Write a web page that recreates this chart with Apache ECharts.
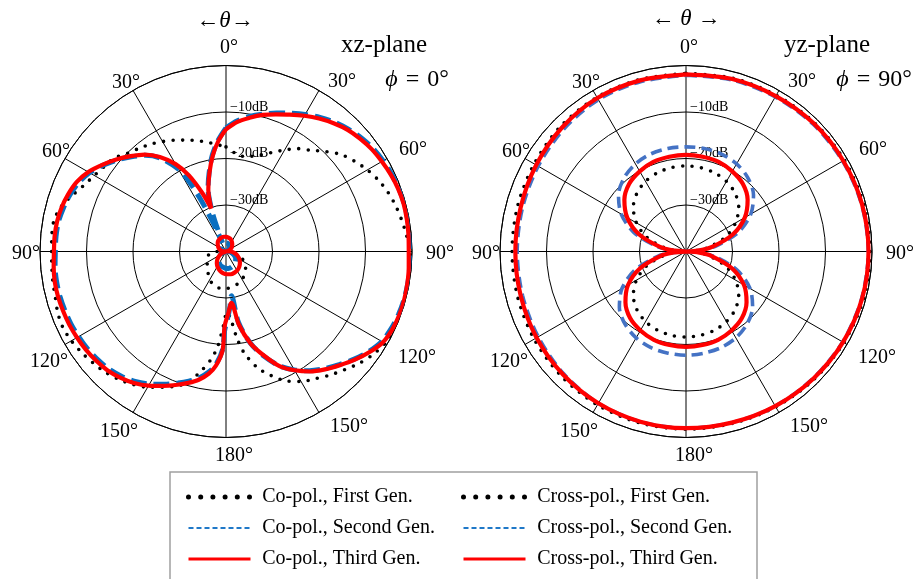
<!DOCTYPE html>
<html>
<head>
<meta charset="utf-8">
<script src="https://cdn.jsdelivr.net/npm/echarts@6/dist/echarts.min.js"></script>
<style>
  html, body { margin: 0; padding: 0; background: #fff; }
  #chart { width: 916px; height: 579px; }
</style>
</head>
<body>
<div id="chart"></div>
<script>
// Radiation patterns, values as [theta (deg, clockwise from broadside), gain (dB)]

// ---- xz-plane (phi = 0) ----
const xzCoFirst = [
  [0,-17.5],[5,-18.7],[10,-19.2],[15,-18.8],[20,-17.9],[25,-16.5],[30,-14.8],[35,-13.0],[40,-11.6],[45,-9.6],
  [50,-7.6],[55,-6.2],[60,-4.9],[65,-3.8],[70,-2.9],[75,-2.2],[80,-1.6],[85,-1.0],[90,-0.5],[95,-0.2],
  [100,0],[105,0],[110,0],[115,-0.2],[120,-0.5],[125,-1.4],[130,-2.6],[135,-4.0],[140,-5.3],[145,-6.6],
  [150,-7.7],[155,-9.3],[160,-11.6],[165,-14.2],[170,-18.0],[173,-21.5],[176,-25.5],[179,-27.0],[182,-24.0],
  [185,-19.5],[188,-16.5],[192,-13.6],[196,-10.8],[200,-9.2],[205,-7.8],[210,-6.3],[215,-5.1],[220,-4.1],
  [225,-3.3],[230,-2.7],[235,-2.1],[240,-1.6],[245,-1.3],[250,-1.5],[255,-2.0],[260,-2.2],[265,-2.4],
  [270,-2.5],[275,-2.4],[280,-2.4],[285,-3.2],[290,-4.8],[295,-6.3],[300,-7.3],[305,-8.1],[310,-8.7],
  [315,-10.1],[320,-11.0],[325,-11.8],[330,-12.7],[335,-13.6],[340,-14.5],[345,-15.3],[350,-16.1],[355,-16.9]
];
const xzCoSecond = [
  [0,-13.4],[5,-11.8],[10,-10.5],[15,-9.4],[20,-8.3],[25,-7.2],[30,-6.0],[35,-4.8],[40,-3.7],[45,-2.8],
  [50,-2.0],[55,-1.4],[60,-1.0],[65,-0.7],[70,-0.45],[75,-0.3],[80,-0.3],[85,-0.35],[90,-0.4],[95,-0.35],
  [100,-0.3],[105,-0.35],[110,-0.5],[115,-0.8],[120,-1.3],[125,-2.5],[130,-4.0],[135,-5.6],[140,-7.1],
  [145,-8.7],[150,-10.6],[155,-12.9],[160,-16.0],[165,-19.5],[170,-24.5],[173,-30.4],[176,-28.0],[179,-25.2],
  [181,-23.0],[182,-18.9],[185,-15.7],[188,-13.9],[192,-12.2],[196,-11.0],[200,-9.9],[205,-8.5],[210,-7.1],
  [215,-5.9],[220,-5.0],[225,-4.3],[230,-3.9],[235,-3.6],[240,-3.4],[245,-3.2],[250,-3.1],[255,-3.0],
  [260,-3.0],[265,-3.1],[270,-3.3],[275,-3.3],[280,-3.4],[285,-3.8],[290,-4.3],[295,-5.0],[300,-6.1],
  [305,-7.7],[310,-9.4],[315,-11.2],[320,-13.0],[325,-15.5],[330,-19.5],[332,-22.5],[334,-27.5],[336,-33.5],
  [338,-38.0],[340,-33.0],[341,-30.5],[344,-26.0],[348,-22.6],[352,-19.0],[356,-16.0]
];
const xzCoThird = [
  [0,-13.7],[5,-12.0],[10,-10.8],[15,-9.6],[20,-8.6],[25,-7.5],[30,-6.3],[35,-5.1],[40,-4.0],[45,-3.0],
  [50,-2.3],[55,-1.7],[60,-1.3],[65,-0.9],[70,-0.6],[75,-0.45],[80,-0.5],[85,-0.6],[90,-0.7],[95,-0.55],
  [100,-0.4],[105,-0.3],[110,-0.3],[115,-0.5],[120,-1.0],[125,-2.3],[130,-3.8],[135,-5.4],[140,-6.9],
  [145,-8.5],[150,-10.5],[155,-12.8],[160,-16.2],[165,-19.5],[170,-24.0],[174,-28.9],[178,-26.6],[181,-24.0],
  [182,-18.7],[185,-15.4],[188,-13.5],[192,-11.8],[196,-10.6],[200,-9.5],[205,-8.1],[210,-6.7],[215,-5.5],
  [220,-4.6],[225,-3.9],[230,-3.5],[235,-3.2],[240,-3.0],[245,-2.8],[250,-2.7],[255,-2.6],[260,-2.6],
  [265,-2.8],[270,-3.0],[275,-3.0],[280,-3.1],[285,-3.4],[290,-3.9],[295,-4.6],[300,-5.8],[305,-7.5],
  [310,-9.2],[315,-11.0],[320,-12.8],[325,-15.2],[330,-18.3],[334,-21.8],[338,-26.5],[341,-30.2],
  [344,-26.2],[348,-22.8],[352,-19.3],[356,-16.2]
];
const xzCrossFirst = [
  [90,-40],[100,-38.5],[110,-36.8],[120,-35.4],[130,-34.5],[140,-33.7],[150,-33.1],[160,-32.6],[170,-32.3],
  [180,-32.0],[190,-32.0],[200,-32.3],[210,-33.0],[220,-34.0],[230,-34.8],[240,-35.3],[250,-35.6],
  [260,-36.3],[270,-38.0],[280,-40]
];
const xzCrossSecond = [
  [82,-40],[92,-39.4],[102,-38.7],[112,-38.2],[122,-37.6],[132,-37.2],[142,-36.8],[152,-36.6],[162,-36.4],
  [172,-36.3],[182,-36.4],[192,-36.6],[202,-36.8],[212,-37.2],[222,-37.6],[232,-38.2],[242,-38.7],
  [252,-39.4],[262,-40],[290,-39.0],[310,-38.5],[330,-38.2],[350,-38.1],[10,-38.2],[30,-38.5],[50,-39.0],[80,-40]
];
const xzCrossThird = [
  [78,-40],[88,-39.1],[98,-38.3],[108,-37.5],[118,-36.8],[128,-36.2],[138,-35.7],[148,-35.3],[158,-35.1],
  [168,-35.0],[178,-35.1],[188,-35.3],[198,-35.7],[208,-36.2],[218,-36.8],[228,-37.5],[238,-38.3],
  [248,-39.1],[258,-40],[262,-40],[272,-39.4],[282,-38.9],[292,-38.4],[302,-38.0],[312,-37.6],[322,-37.2],
  [332,-37.0],[342,-36.85],[352,-36.8],[2,-36.85],[12,-37.0],[22,-37.2],[32,-37.6],[42,-38.0],[52,-38.4],
  [62,-38.9],[72,-39.4],[82,-40]
];

// ---- yz-plane (phi = 90) ----
const yzCoFirst = [
  [0,-1.7],[15,-1.4],[30,-1.2],[45,-0.9],[60,-0.7],[75,-0.5],[90,-0.4],[105,-0.5],[120,-0.8],[135,-1.1],
  [150,-1.4],[165,-1.7],[180,-1.8],[195,-1.8],[210,-1.9],[225,-2.1],[240,-2.3],[255,-2.5],[270,-2.6],
  [285,-2.5],[300,-2.3],[315,-1.9],[330,-1.7],[345,-1.7]
];
const yzCoSecond = [
  [0,-2.1],[15,-1.8],[30,-1.6],[45,-1.3],[60,-1.1],[75,-0.9],[90,-0.8],[105,-0.9],[120,-1.1],[135,-1.4],
  [150,-1.6],[165,-1.9],[180,-2.0],[195,-2.1],[210,-2.3],[225,-2.8],[240,-3.3],[255,-3.6],[270,-3.7],
  [285,-3.6],[300,-3.3],[315,-2.8],[330,-2.3],[345,-2.2]
];
const yzCoThird = [
  [0,-1.9],[15,-1.6],[30,-1.4],[45,-1.1],[60,-0.95],[75,-0.8],[90,-0.75],[105,-0.8],[120,-1.0],[135,-1.3],
  [150,-1.6],[165,-1.9],[180,-2.0],[195,-2.1],[210,-2.3],[225,-2.6],[240,-2.9],[255,-3.2],[270,-3.3],
  [285,-3.2],[300,-2.8],[315,-2.3],[330,-1.9],[345,-1.9]
];
const yzCrossFirst = [
  [90,-40],[95,-37.6],[100,-35.2],[110,-31.0],[120,-27.7],[130,-25.2],[140,-23.6],[150,-22.6],[160,-22.0],
  [170,-21.7],[180,-21.6],[190,-21.7],[200,-22.0],[210,-22.6],[220,-23.6],[230,-25.2],[240,-27.7],
  [250,-31.0],[260,-35.2],[265,-37.6],[270,-40],[275,-37.6],[280,-35.2],[290,-31.0],[300,-27.7],[310,-25.2],
  [320,-23.6],[330,-22.6],[340,-22.0],[350,-21.7],[0,-21.6],[10,-21.7],[20,-22.0],[30,-22.6],[40,-23.6],
  [50,-25.2],[60,-27.7],[70,-31.0],[80,-35.2],[85,-37.6],[90,-40]
];
const yzCrossSecond = [
  [90,-40],[95,-36.9],[100,-33.7],[110,-28.3],[120,-24.1],[130,-21.3],[140,-19.6],[150,-18.55],[160,-18.0],
  [170,-17.8],[180,-17.7],[190,-17.8],[200,-18.0],[210,-18.55],[220,-19.6],[230,-21.3],[240,-24.1],
  [250,-28.3],[260,-33.7],[265,-36.9],[270,-40],[275,-36.8],[280,-33.6],[290,-28.1],[300,-23.9],[310,-21.05],
  [320,-19.3],[330,-18.25],[340,-17.7],[350,-17.5],[0,-17.5],[10,-17.5],[20,-17.7],[30,-18.25],[40,-19.3],
  [50,-21.05],[60,-23.9],[70,-28.1],[80,-33.6],[85,-36.8],[90,-40]
];
const yzCrossThird = [
  [90,-40],[95,-37.1],[100,-34.4],[110,-29.5],[120,-25.6],[130,-23.0],[140,-21.3],[150,-20.4],[160,-19.8],
  [170,-19.6],[180,-19.5],[190,-19.6],[200,-19.8],[210,-20.4],[220,-21.3],[230,-23.0],[240,-25.6],
  [250,-29.5],[260,-34.4],[265,-37.1],[270,-40],[275,-37.1],[280,-34.3],[290,-29.3],[300,-25.4],[310,-22.7],
  [320,-21.0],[330,-20.1],[340,-19.5],[350,-19.3],[0,-19.2],[10,-19.3],[20,-19.5],[30,-20.1],[40,-21.0],
  [50,-22.7],[60,-25.4],[70,-29.3],[80,-34.3],[85,-37.1],[90,-40]
];

// Axis scale and tick labels
const dbMin = -40, dbMax = 0, dbStep = 10;
const ringLabels = { '-10': '\u221210dB', '-20': '\u221220dB', '-30': '\u221230dB' };
const angleStep = 30;

const names = {
  coFirst: 'Co-pol., First Gen.',
  coSecond: 'Co-pol., Second Gen.',
  coThird: 'Co-pol., Third Gen.',
  crFirst: 'Cross-pol., First Gen.',
  crSecond: 'Cross-pol., Second Gen.',
  crThird: 'Cross-pol., Third Gen.'
};

const SERIF = '"Liberation Serif", "Times New Roman", serif';

// Line looks
const dotted = { color: '#000', width: 3.6, type: [0, 9.5], cap: 'round' };
const blueXZ = { color: '#0a6fc0', width: 5, type: [16, 7] };
const blueYZ = { color: '#4472c4', width: 3.6, type: [11, 6] };
const redLine = { color: '#ff0000', width: 4.2 };

function toPolar(pairs, close) {
  const pts = pairs.map(p => [p[1], p[0]]);
  if (close) pts.push(pts[0].slice());
  return pts;
}

function line(name, polarIndex, pairs, style, z, close) {
  return {
    name, type: 'line', coordinateSystem: 'polar', polarIndex,
    data: toPolar(pairs, close),
    symbol: 'none', smooth: 0.3, z, silent: true,
    lineStyle: style,
    animation: false
  };
}

const centers = [[226, 251.5], [686, 251.5]];
const R = 186;

const polar = centers.map(c => ({ center: c, radius: R }));

// Angle labels read 0..180 on both sides of the broadside axis.
// Per-tick padding seats each label (the degree sign hangs to the right of the numerals).
function labelStyle(pad) {
  return { fontFamily: SERIF, fontSize: 20, color: '#000', padding: pad };
}
const angleRich = {
  t0: labelStyle([0, 0, 0, 6]),
  t30: labelStyle([0, 0, -8, 5]),
  t60: labelStyle([0, 0, -5, 5]),
  t90: labelStyle([4, 0, 0, 6]),
  t120: labelStyle([-1, 0, 0, 4]),
  t150: labelStyle([-3, 0, 0, 7]),
  t180: labelStyle([0, 0, 0, 16]),
  t210: labelStyle([2, -9, 0, 0]),
  t240: labelStyle([3, -10, 0, 0]),
  t270: labelStyle([5, -8, 0, 0]),
  t300: labelStyle([0, -12, -7, 0]),
  t330: labelStyle([0, -11, -9, 0])
};

const angleAxis = centers.map((c, i) => ({
  polarIndex: i, type: 'value', min: 0, max: 360, interval: angleStep,
  startAngle: 90, clockwise: true,
  axisLine: { lineStyle: { color: '#000', width: 1 } },
  axisTick: { show: false },
  splitLine: { show: true, lineStyle: { color: '#000', width: 1 } },
  axisLabel: {
    margin: 8,
    color: '#000', fontFamily: SERIF, fontSize: 20,
    rich: angleRich,
    formatter: v => {
      const d = v > 180 ? 360 - v : v;
      return '{t' + v + '|' + d + '°}';
    }
  }
}));

const radiusAxis = centers.map((c, i) => ({
  polarIndex: i, type: 'value', min: dbMin, max: dbMax, interval: dbStep,
  axisLine: { show: false },
  axisTick: { show: false },
  splitLine: { show: true, lineStyle: { color: '#000', width: 1 } },
  axisLabel: {
    margin: -4, align: 'left', verticalAlign: 'bottom', padding: [0, 0, -2, 0],
    color: '#000', fontFamily: SERIF, fontSize: 14,
    formatter: v => ringLabels[String(v)] || ''
  }
}));

const series = [
  line(names.coFirst, 0, xzCoFirst, dotted, 2, true),
  line(names.crFirst, 0, xzCrossFirst, dotted, 2, false),
  line(names.coSecond, 0, xzCoSecond, blueXZ, 3, true),
  line(names.crSecond, 0, xzCrossSecond, blueXZ, 3, false),
  line(names.coThird, 0, xzCoThird, redLine, 4, true),
  line(names.crThird, 0, xzCrossThird, redLine, 4, false),

  line(names.coFirst, 1, yzCoFirst, dotted, 2, true),
  line(names.crFirst, 1, yzCrossFirst, dotted, 2, false),
  line(names.coSecond, 1, yzCoSecond, blueYZ, 3, true),
  line(names.crSecond, 1, yzCrossSecond, blueYZ, 3, false),
  line(names.coThird, 1, yzCoThird, redLine, 4, true),
  line(names.crThird, 1, yzCrossThird, redLine, 4, false)
];

const legendLook = {
  First: { lineStyle: { color: '#000', width: 5, type: [0, 12.2], cap: 'round' } },
  Second: { lineStyle: { color: '#1f78c8', width: 2, type: [5, 3] } },
  Third: { lineStyle: { color: '#ff0000', width: 3, type: 'solid' } }
};
function legendItem(name, gen) {
  return { name, lineStyle: legendLook[gen].lineStyle, itemStyle: { opacity: 0 } };
}
function legend(left, items) {
  return {
    orient: 'vertical', left, top: 487, padding: 0,
    itemWidth: 62, itemHeight: 20, itemGap: 11,
    selectedMode: false,
    formatter: n => '\u2004' + n,
    textStyle: { fontFamily: SERIF, fontSize: 20, color: '#000', lineHeight: 20 },
    data: items
  };
}

const arrowRich = {
  a: { fontFamily: SERIF, fontSize: 23, fill: '#000' },
  b: { fontFamily: SERIF, fontSize: 23, fontStyle: 'italic', fill: '#000' }
};
function txt(x, y, text, size, rich) {
  return {
    type: 'text', x, y, silent: true,
    style: rich
      ? { text, rich, align: 'center', verticalAlign: 'middle', fill: '#000' }
      : { text, font: size + 'px ' + SERIF, align: 'center', verticalAlign: 'middle', fill: '#000' }
  };
}
const phiRich = {
  i: { fontFamily: SERIF, fontSize: 24, fontStyle: 'italic', fill: '#000' },
  r: { fontFamily: SERIF, fontSize: 24, fill: '#000' }
};

const option = {
  backgroundColor: '#fff',
  animation: false,
  polar, angleAxis, radiusAxis, series,
  legend: [
    legend(186, [legendItem(names.coFirst, 'First'), legendItem(names.coSecond, 'Second'), legendItem(names.coThird, 'Third')]),
    legend(461, [legendItem(names.crFirst, 'First'), legendItem(names.crSecond, 'Second'), legendItem(names.crThird, 'Third')])
  ],
  graphic: [
    { type: 'rect', silent: true, shape: { x: 170, y: 472, width: 587, height: 130 },
      style: { fill: 'none', stroke: '#a0a0a0', lineWidth: 1.5 } },
    txt(225, 21, '{a|\u2190}{b|\u03B8}{a|\u2192}', 0, arrowRich),
    txt(686, 19, '{a|\u2190 }{b|\u03B8}{a| \u2192}', 0, arrowRich),
    txt(384, 45, 'xz-plane', 25),
    txt(827, 45, 'yz-plane', 25),
    txt(417, 80, '{i|\u03D5}{r|\u2004=\u20040°}', 0, phiRich),
    txt(874, 80, '{i|\u03D5}{r|\u2004=\u200490°}', 0, phiRich)
  ]
};

const chart = echarts.init(document.getElementById('chart'), null, { renderer: 'canvas' });
chart.setOption(option);
</script>
</body>
</html>
